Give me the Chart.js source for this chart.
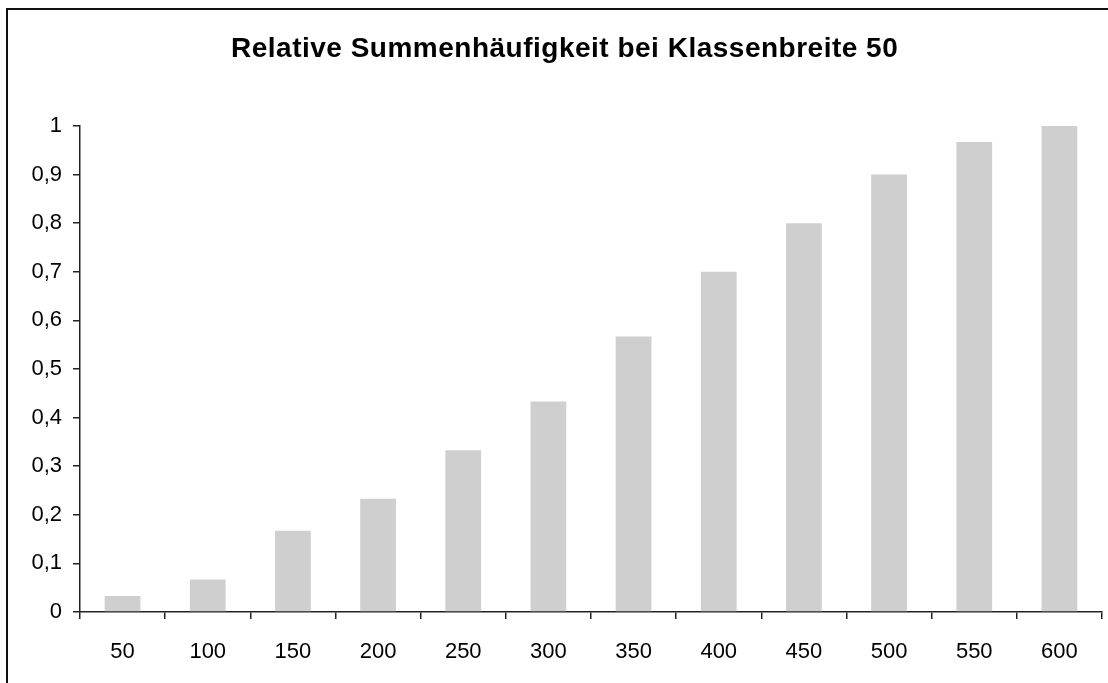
<!DOCTYPE html>
<html>
<head>
<meta charset="utf-8">
<script src="https://cdn.jsdelivr.net/npm/chart.js@4"></script>
<style>
    html, body { margin: 0; padding: 0; background: #fff; overflow: hidden; }
    #wrap { position: relative; width: 1108px; height: 683px; }
    #frame { position: absolute; left: 6px; top: 8px; width: 1200px; height: 800px; border: 2px solid #111; pointer-events: none; }
</style>
</head>
<body>
<div id="wrap">
    <canvas id="SumChart" width="1108" height="683"></canvas>
    <div id="frame"></div>
</div>
<script>
//Labels and values
const chartTitle = 'Relative Summenhäufigkeit bei Klassenbreite 50';
const classLimits = ['50','100','150','200','250','300','350','400','450','500','550','600'];
const relCumFreq = [0.033, 0.067, 0.167, 0.233, 0.333, 0.433, 0.567, 0.7, 0.8, 0.9, 0.967, 1];
const yTicks = [0, 0.1, 0.2, 0.3, 0.4, 0.5, 0.6, 0.7, 0.8, 0.9, 1];

Chart.defaults.color = '#000';
Chart.defaults.font.family = '"Liberation Sans", Arial, sans-serif';
Chart.defaults.font.size = 22;

//Title sits where the (cropped) original chart had it, not centred on the plot
const titlePlugin = {
    id: 'pageTitle',
    afterDraw(chart) {
        const ctx = chart.ctx;
        ctx.save();
        ctx.font = 'bold 28px "Liberation Sans", Arial, sans-serif';
        ctx.letterSpacing = '0.5px';
        ctx.fillStyle = '#000';
        ctx.textAlign = 'left';
        ctx.textBaseline = 'alphabetic';
        ctx.fillText(chartTitle, 231, 57);
        ctx.restore();
    }
};

const data = {
    labels: classLimits,
    datasets: [{
        label: chartTitle,
        data: relCumFreq,
        backgroundColor: '#cfcfcf',
        borderWidth: 0,
        categoryPercentage: 1,
        barPercentage: 0.42
    }]
};

const config = {
    type: 'bar',
    data: data,
    options: {
        responsive: false,
        animation: false,
        layout: {
            padding: { left: 0, right: 6, top: 126, bottom: 0 }
        },
        scales: {
            x: {
                grid: {
                    offset: true,
                    drawOnChartArea: false,
                    tickLength: 7,
                    color: '#222',
                    lineWidth: 1.5
                },
                border: { display: true, color: '#222', width: 1.5 },
                ticks: { padding: 20, maxRotation: 0 },
                afterFit: (scale) => { scale.height = 71; }
            },
            y: {
                min: 0,
                max: 1,
                afterBuildTicks: (scale) => { scale.ticks = yTicks.map(v => ({value: v})); },
                grid: {
                    drawOnChartArea: false,
                    tickLength: 7,
                    color: '#222',
                    lineWidth: 1.5
                },
                border: { display: true, color: '#222', width: 1.5 },
                ticks: {
                    padding: 11,
                    callback: (value) => String(Number(value.toFixed(1))).replace('.', ',')
                },
                afterFit: (scale) => { scale.width = 80; }
            }
        },
        plugins: {
            legend: { display: false },
            title: { display: false },
            tooltip: { enabled: false }
        }
    },
    plugins: [titlePlugin]
};

new Chart(document.getElementById('SumChart'), config);
</script>
</body>
</html>
